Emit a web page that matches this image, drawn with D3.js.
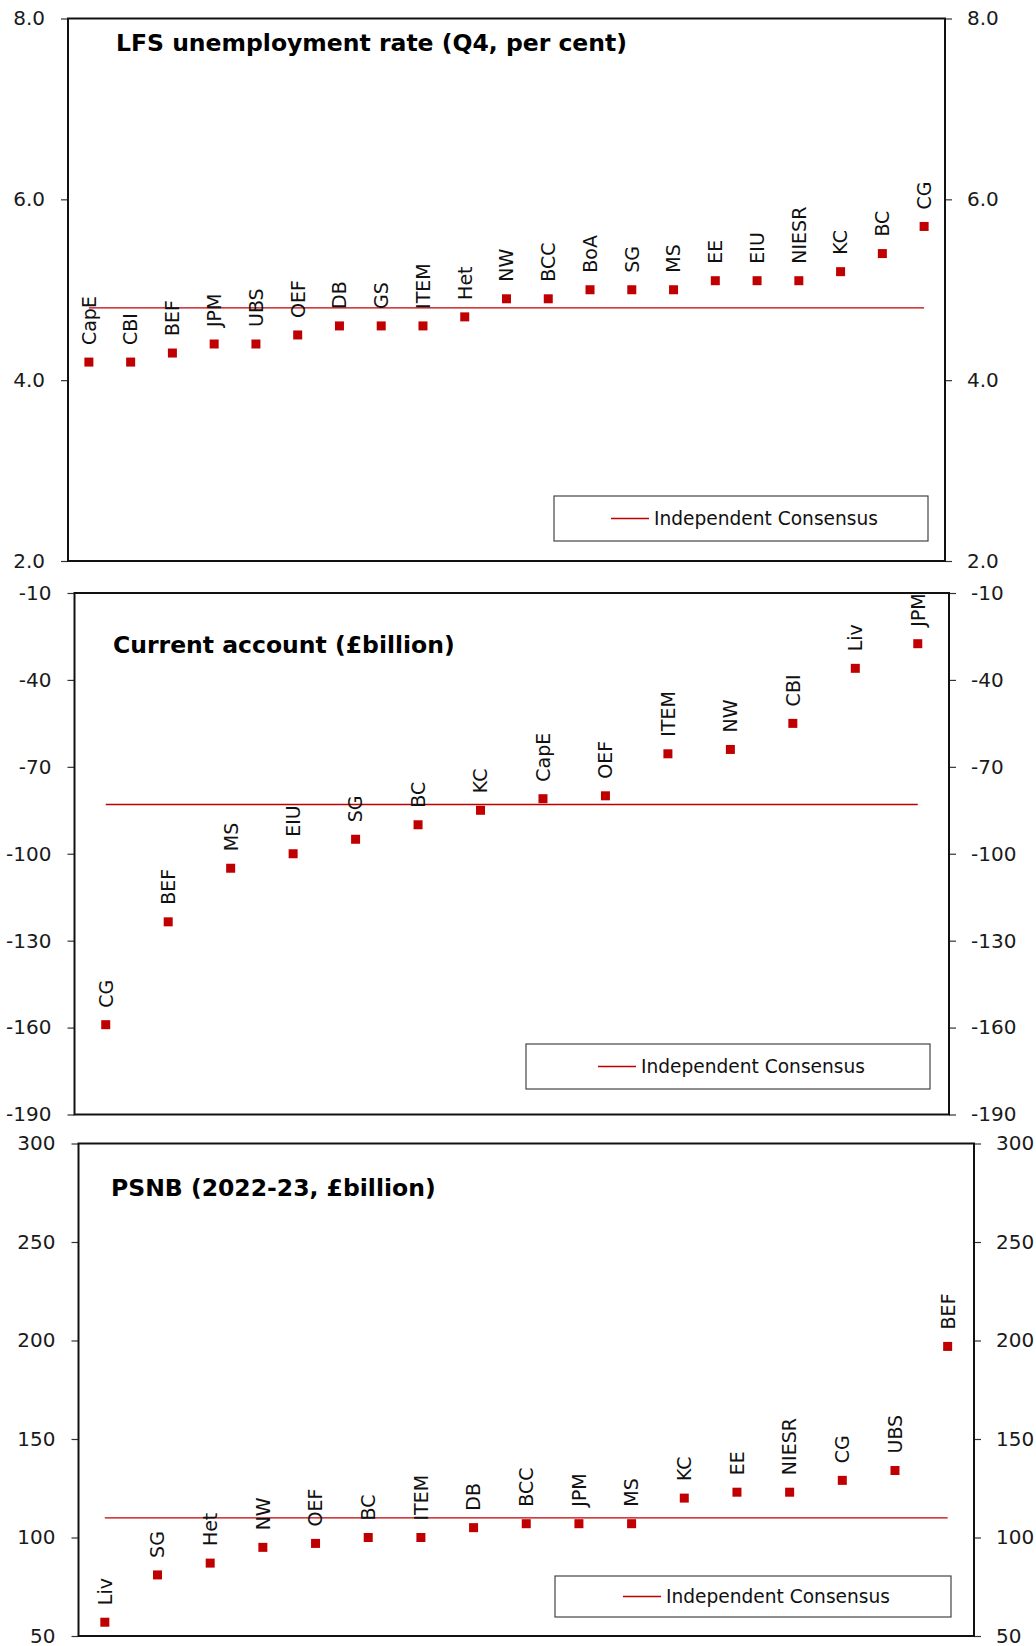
<!DOCTYPE html>
<html>
<head>
<meta charset="utf-8">
<script src="https://cdn.jsdelivr.net/npm/d3@7"></script>
<style>
  body { margin: 0; background: #fff; }
  svg { display: block; font-family: "DejaVu Sans", sans-serif; }
</style>
</head>
<body>
<svg id="chart"></svg>
<script>
// LFS unemployment rate (Q4, per cent)
const lfsNames = ["CapE", "CBI", "BEF", "JPM", "UBS", "OEF", "DB", "GS", "ITEM", "Het", "NW",
                  "BCC", "BoA", "SG", "MS", "EE", "EIU", "NIESR", "KC", "BC", "CG"];
const lfsValues = [4.2, 4.2, 4.3, 4.4, 4.4, 4.5, 4.6, 4.6, 4.6, 4.7, 4.9,
                   4.9, 5.0, 5.0, 5.0, 5.1, 5.1, 5.1, 5.2, 5.4, 5.7];
const lfsConsensus = 4.8;
const lfsTicks = [2, 4, 6, 8];

// Current account (£billion)
const caNames = ["CG", "BEF", "MS", "EIU", "SG", "BC", "KC", "CapE", "OEF", "ITEM", "NW", "CBI", "Liv", "JPM"];
const caValues = [-159, -123.5, -105, -100, -95, -90, -85, -81, -80, -65.5, -64, -55, -36, -27.5];
const caConsensus = -83;
const caTicks = [-190, -160, -130, -100, -70, -40, -10];

// PSNB (2022-23, £billion)
const psnbNames = ["Liv", "SG", "Het", "NW", "OEF", "BC", "ITEM", "DB", "BCC", "JPM", "MS",
                   "KC", "EE", "NIESR", "CG", "UBS", "BEF"];
const psnbValues = [57, 81, 87, 95, 97, 100, 100, 105, 107, 107, 107,
                    120, 123, 123, 129, 134, 197];
const psnbConsensus = 110;
const psnbTicks = [50, 100, 150, 200, 250, 300];

const legendLabel = "Independent Consensus";
const red = "#c00000";

const svg = d3.select("#chart").attr("width", 1036).attr("height", 1646);

// plain hyphen for negatives, as in the original
const intFmt = d => String(d);

const panels = [
    {
        title: "LFS unemployment rate (Q4, per cent)", names: lfsNames, values: lfsValues,
        consensus: lfsConsensus, ticks: lfsTicks, fmt: d3.format(".1f"),
        left: 68, right: 945, top: 18.5, bottom: 561,
        titleX: 116, titleY: 51,
        legend: {x0: 554, y0: 496, x1: 928, y1: 541}
    },
    {
        title: "Current account (£billion)", names: caNames, values: caValues,
        consensus: caConsensus, ticks: caTicks, fmt: intFmt,
        left: 74.5, right: 949, top: 593, bottom: 1114.5,
        titleX: 113, titleY: 653,
        legend: {x0: 526, y0: 1044, x1: 930, y1: 1089}
    },
    {
        title: "PSNB (2022-23, £billion)", names: psnbNames, values: psnbValues,
        consensus: psnbConsensus, ticks: psnbTicks, fmt: intFmt,
        left: 78.5, right: 974, top: 1143.5, bottom: 1636,
        titleX: 111, titleY: 1196,
        legend: {x0: 555, y0: 1576, x1: 951, y1: 1617}
    }
];

panels.forEach(drawPanel);

function drawPanel(p) {
    const g = svg.append("g");

    const x = d3.scaleBand()
        .domain(p.names)
        .range([p.left, p.right]);

    const y = d3.scaleLinear()
        .domain(d3.extent(p.ticks))
        .range([p.bottom, p.top]);

    const cx = d => x(d) + x.bandwidth() / 2;

    // y axes on both sides, ticks outward
    const styleAxis = a => {
        a.select(".domain").remove();
        a.selectAll(".tick line").attr("stroke", "#333").attr("stroke-width", 1.2);
        a.selectAll(".tick text")
            .attr("font-family", "DejaVu Sans")
            .attr("font-size", 20)
            .attr("fill", "#1a1a1a");
    };

    g.append("g")
        .attr("transform", `translate(${p.left},0)`)
        .call(d3.axisLeft(y).tickValues(p.ticks).tickSize(7).tickPadding(16).tickFormat(p.fmt))
        .call(styleAxis);

    g.append("g")
        .attr("transform", `translate(${p.right},0)`)
        .call(d3.axisRight(y).tickValues(p.ticks).tickSize(7).tickPadding(15).tickFormat(p.fmt))
        .call(styleAxis);

    // consensus line from first to last forecaster
    g.append("line")
        .attr("x1", cx(p.names[0]))
        .attr("x2", cx(p.names[p.names.length - 1]))
        .attr("y1", y(p.consensus))
        .attr("y2", y(p.consensus))
        .attr("stroke", red)
        .attr("stroke-width", 1.3);

    const pts = p.names.map((n, i) => ({name: n, value: p.values[i]}));

    // markers
    g.selectAll(".pt")
        .data(pts)
        .join("rect")
        .attr("class", "pt")
        .attr("x", d => cx(d.name) - 4.5)
        .attr("y", d => y(d.value) - 4.5)
        .attr("width", 9)
        .attr("height", 9)
        .attr("fill", red);

    // forecaster labels, rotated, above each marker
    g.selectAll(".lbl")
        .data(pts)
        .join("text")
        .attr("class", "lbl")
        .attr("transform", d => `translate(${cx(d.name)},${y(d.value) - 17}) rotate(-90)`)
        .attr("dy", "0.36em")
        .attr("text-anchor", "start")
        .attr("font-size", 19)
        .attr("fill", "#111")
        .text(d => d.name);

    // frame
    g.append("rect")
        .attr("x", p.left)
        .attr("y", p.top)
        .attr("width", p.right - p.left)
        .attr("height", p.bottom - p.top)
        .attr("fill", "none")
        .attr("stroke", "#111")
        .attr("stroke-width", 2);

    // title
    g.append("text")
        .attr("x", p.titleX)
        .attr("y", p.titleY)
        .attr("font-size", 23.5)
        .attr("font-weight", "bold")
        .attr("fill", "#000")
        .text(p.title);

    // legend
    const L = p.legend;
    const midY = (L.y0 + L.y1) / 2;
    g.append("rect")
        .attr("x", L.x0)
        .attr("y", L.y0)
        .attr("width", L.x1 - L.x0)
        .attr("height", L.y1 - L.y0)
        .attr("fill", "#fff")
        .attr("stroke", "#444")
        .attr("stroke-width", 1.2);
    const textX = (L.x0 + L.x1) / 2 - 87;
    g.append("line")
        .attr("x1", textX - 43)
        .attr("x2", textX - 5)
        .attr("y1", midY)
        .attr("y2", midY)
        .attr("stroke", red)
        .attr("stroke-width", 1.3);
    g.append("text")
        .attr("x", textX)
        .attr("y", midY)
        .attr("dy", "0.35em")
        .attr("font-size", 18.6)
        .attr("fill", "#111")
        .text(legendLabel);
}
</script>
</body>
</html>
